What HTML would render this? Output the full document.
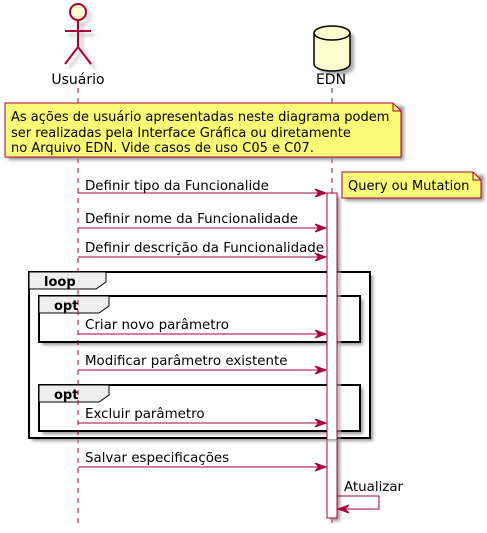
<!DOCTYPE html>
<html><head><meta charset="utf-8"><style>
html,body{margin:0;padding:0;background:#fff;}
svg{display:block;}
text{font-family:"DejaVu Sans","Liberation Sans",sans-serif;fill:#000;}
</style></head><body>
<svg width="487" height="533" viewBox="0 0 487 533" xmlns="http://www.w3.org/2000/svg">
<defs>
<filter id="sh" x="-10%" y="-10%" width="130%" height="140%"><feGaussianBlur stdDeviation="1.5"/></filter>
</defs>
<line x1="78" y1="88" x2="78" y2="523" stroke="#A80036" stroke-dasharray="5,5"/>
<line x1="332" y1="88" x2="332" y2="523" stroke="#A80036" stroke-dasharray="5,5"/>
<g stroke="#bbb" stroke-width="2" fill="none" filter="url(#sh)" transform="translate(4,4)">
<circle cx="78" cy="12" r="8"/><line x1="78" y1="20" x2="78" y2="47"/><line x1="65" y1="31" x2="91" y2="31"/><polyline points="65,64 78,47 91,64"/>
</g>
<circle cx="78" cy="12" r="8" fill="#FEFECE" stroke="#A80036" stroke-width="2"/>
<line x1="78" y1="20" x2="78" y2="47" stroke="#A80036" stroke-width="2"/>
<line x1="65" y1="31" x2="91" y2="31" stroke="#A80036" stroke-width="2"/>
<polyline points="65,64 78,47 91,64" fill="none" stroke="#A80036" stroke-width="2"/>
<text x="78" y="84" font-size="14" text-anchor="middle">Usuário</text>
<path d="M318,37 A18,7 0 0 1 354,37 L354,68 A18,7 0 0 1 318,68 Z" fill="#aaa" filter="url(#sh)"/>
<path d="M314,33 A18,7 0 0 1 350,33 L350,64 A18,7 0 0 1 314,64 Z" fill="#FEFECE" stroke="#000" stroke-width="1.5"/>
<path d="M314,33 A18,7 0 0 0 350,33" fill="none" stroke="#000" stroke-width="1.5"/>
<text x="331" y="84" font-size="14" text-anchor="middle">EDN</text>
<rect x="8" y="106" width="396" height="54" fill="#999" filter="url(#sh)"/>
<path d="M5,103 L393,103 L401,111 L401,157 L5,157 Z" fill="#FBFB77" stroke="#A80036"/>
<path d="M393,103 L393,111 L401,111" fill="none" stroke="#A80036"/>
<text font-size="13"><tspan x="11" y="121">As ações de usuário apresentadas neste diagrama podem</tspan><tspan x="11" y="137">ser realizadas pela Interface Gráfica ou diretamente</tspan><tspan x="11" y="152">no Arquivo EDN. Vide casos de uso C05 e C07.</tspan></text>
<rect x="345" y="175" width="139" height="26" fill="#999" filter="url(#sh)"/>
<path d="M342,172 L473,172 L481,180 L481,198 L342,198 Z" fill="#FBFB77" stroke="#A80036"/>
<path d="M473,172 L473,180 L481,180" fill="none" stroke="#A80036"/>
<text x="348" y="190" font-size="13">Query ou Mutation</text>
<rect x="330" y="196" width="10" height="325" fill="#999" filter="url(#sh)"/>
<rect x="327" y="193" width="10" height="325" fill="#fff" stroke="#A80036"/>
<rect x="32" y="275" width="341" height="166" fill="#999" filter="url(#sh)"/>
<rect x="29" y="272" width="341" height="166" fill="#fff" stroke="#000" stroke-width="2"/>
<path d="M29,272 L106,272 L106,282 L96,289 L29,289 Z" fill="#EEEEEE" stroke="#000"/>
<text x="44" y="286" font-size="13" font-weight="bold">loop</text>
<rect x="42" y="299" width="321" height="46" fill="#999" filter="url(#sh)"/>
<rect x="39" y="296" width="321" height="46" fill="#fff" stroke="#000" stroke-width="2"/>
<path d="M39,296 L109,296 L109,306 L99,313 L39,313 Z" fill="#EEEEEE" stroke="#000"/>
<text x="54" y="310" font-size="13" font-weight="bold">opt</text>
<rect x="42" y="388" width="321" height="46" fill="#999" filter="url(#sh)"/>
<rect x="39" y="385" width="321" height="46" fill="#fff" stroke="#000" stroke-width="2"/>
<path d="M39,385 L109,385 L109,395 L99,402 L39,402 Z" fill="#EEEEEE" stroke="#000"/>
<text x="54" y="399" font-size="13" font-weight="bold">opt</text>
<line x1="78" y1="290" x2="78" y2="437" stroke="#A80036" stroke-dasharray="5,5"/>
<rect x="337.5" y="271" width="3" height="168" fill="#aaa" filter="url(#sh)"/>
<rect x="327.5" y="271" width="9" height="168" fill="#fff"/>
<line x1="327" y1="270" x2="327" y2="440" stroke="#A80036"/>
<line x1="337" y1="270" x2="337" y2="440" stroke="#A80036"/>
<g stroke="#A80036" fill="#A80036">
<line x1="78" y1="193" x2="325" y2="193"/><polygon points="315,189 326,193 315,197 319,193"/>
<line x1="78" y1="228" x2="325" y2="228"/><polygon points="315,224 326,228 315,232 319,228"/>
<line x1="78" y1="257" x2="325" y2="257"/><polygon points="315,253 326,257 315,261 319,257"/>
<line x1="78" y1="334" x2="325" y2="334"/><polygon points="315,330 326,334 315,338 319,334"/>
<line x1="78" y1="370" x2="325" y2="370"/><polygon points="315,366 326,370 315,374 319,370"/>
<line x1="78" y1="423" x2="325" y2="423"/><polygon points="315,419 326,423 315,427 319,423"/>
<line x1="78" y1="467" x2="325" y2="467"/><polygon points="315,463 326,467 315,471 319,467"/>
<polyline points="337,496 379,496 379,509 339,509" fill="none"/>
<polygon points="349,505 338,509 349,513 345,509"/>
</g>
<g font-size="13.4">
<text x="85" y="190">Definir tipo da Funcionalide</text>
<text x="85" y="223">Definir nome da Funcionalidade</text>
<text x="85" y="252">Definir descrição da Funcionalidade</text>
<text x="85" y="329">Criar novo parâmetro</text>
<text x="85" y="365">Modificar parâmetro existente</text>
<text x="85" y="418">Excluir parâmetro</text>
<text x="85" y="462">Salvar especificações</text>
<text x="344" y="491">Atualizar</text>
</g>
</svg>
</body></html>
